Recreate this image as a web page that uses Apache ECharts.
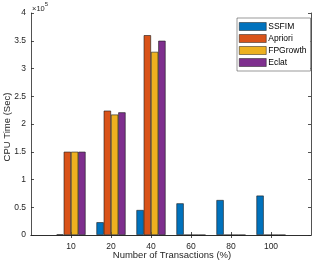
<!DOCTYPE html>
<html><head><meta charset="utf-8">
<script src="https://cdn.jsdelivr.net/npm/echarts@6/dist/echarts.min.js"></script>
<style>html,body{margin:0;padding:0;background:#fff}#c{width:315px;height:261px}</style>
</head><body><div id="c"></div>
<script>
var categories = ['10', '20', '40', '60', '80', '100'];
var seriesNames = ['SSFIM', 'Apriori', 'FPGrowth', 'Eclat'];
var ssfim = [1000, 23000, 45000, 57000, 63000, 71000];
var apriori = [150000, 224000, 360000, 0, 0, 0];
var fpgrowth = [150000, 217000, 330000, 0, 0, 0];
var eclat = [150000, 221000, 350000, 0, 0, 0];
var yTicks = [0, 50000, 100000, 150000, 200000, 250000, 300000, 350000, 400000];
var xTitle = 'Number of Transactions (%)';
var yTitle = 'CPU Time (Sec)';
var colors = ['#0072BD', '#D95319', '#EDB120', '#7E2F8E'];

var axisCats = [''].concat(categories).concat(['']);
function pad(a){ return [null].concat(a).concat([null]); }
var values = [ssfim, apriori, fpgrowth, eclat];
var ff = 'Liberation Sans, Arial, sans-serif';
var axColor = '#262626';
var chart = echarts.init(document.getElementById('c'), null, {renderer:'canvas'});
var inner = function(i){ return i > 0 && i < axisCats.length - 1; };
var xBase = {
  type: 'category', data: axisCats, boundaryGap: false,
  axisLine: {lineStyle: {color: axColor, width: 0.8}},
  axisTick: {inside: true, length: 3, interval: inner, lineStyle: {color: axColor, width: 0.8}},
  splitLine: {show: false}
};
var yBase = {
  type: 'value', min: yTicks[0], max: yTicks[yTicks.length-1], interval: yTicks[1]-yTicks[0],
  axisLine: {show: true, lineStyle: {color: axColor, width: 0.8}},
  axisTick: {show: true, inside: true, length: 3, lineStyle: {color: axColor, width: 0.8}},
  splitLine: {show: false}
};
chart.setOption({
  animation: false,
  grid: {left: 31, right: 4, top: 13, bottom: 26, containLabel: false, outerBoundsMode: 'none'},
  legend: {
    orient: 'vertical', left: 237, top: 18, width: 68,
    itemWidth: 27, itemHeight: 8, itemGap: 3,
    padding: [4, 4, 4, 2],
    borderColor: '#333', borderWidth: 0.5, backgroundColor: '#fff',
    textStyle: {fontFamily: ff, fontSize: 8.5, color: '#000', padding: [0,0,0,-3]},
    icon: 'rect',
    itemStyle: {borderWidth: 0.5, borderColor: '#1a1a1a'},
    data: seriesNames
  },
  xAxis: [
    Object.assign({}, xBase, {position: 'bottom',
      axisLabel: {show: true, fontFamily: ff, fontSize: 8.5, color: axColor, margin: 7, interval: inner}}),
    Object.assign({}, xBase, {position: 'top', axisLabel: {show: false}})
  ],
  yAxis: [
    Object.assign({}, yBase, {position: 'left',
      axisLabel: {fontFamily: ff, fontSize: 8.5, color: axColor, margin: 5,
        formatter: function(v){ return String(v / 100000); }}}),
    Object.assign({}, yBase, {position: 'right', axisLabel: {show: false}})
  ],
  graphic: [{
    type: 'text', left: 32, top: 1,
    style: {
      text: '{a|×10}{b|5}',
      rich: {
        a: {fontFamily: ff, fontSize: 7.5, fill: axColor, verticalAlign: 'bottom', padding: [4,0,0,0]},
        b: {fontFamily: ff, fontSize: 6, fill: axColor, verticalAlign: 'top'}
      }
    }
  }, {
    type: 'text', x: 172, y: 255,
    style: {text: xTitle, fontFamily: ff, fontSize: 9.5, fill: axColor, align: 'center', verticalAlign: 'middle'}
  }, {
    type: 'text', x: 7, y: 127, rotation: Math.PI / 2,
    style: {text: yTitle, fontFamily: ff, fontSize: 9.5, fill: axColor, align: 'center', verticalAlign: 'middle'}
  }],
  series: seriesNames.map(function(n, k){
    return {
      name: n, type: 'bar', xAxisIndex: 0, yAxisIndex: 0,
      data: pad(values[k]),
      barWidth: '18.2%', barGap: '0%',
      itemStyle: {color: colors[k], borderColor: '#1a1a1a', borderWidth: 0.6}
    };
  })
});
</script></body></html>
